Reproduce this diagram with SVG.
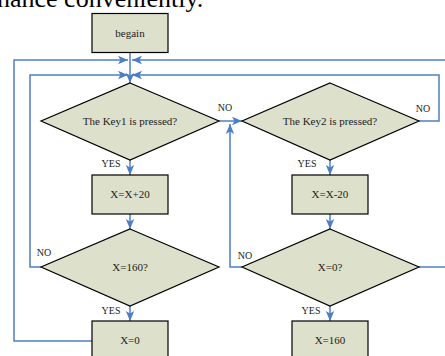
<svg xmlns="http://www.w3.org/2000/svg" width="445" height="356" viewBox="0 0 445 356">
<style>
.box{fill:#dde0ca;stroke:#000;stroke-width:1.2}
.t{font-family:"Liberation Serif","Times New Roman",serif;font-size:11px;fill:#222;text-anchor:middle}
.lbl{font-family:"Liberation Serif","Times New Roman",serif;font-size:10px;fill:#222;text-anchor:middle}
.c{fill:none;stroke:#4f7fc4;stroke-width:1.5}
</style>
<defs>
<marker id="ah" markerUnits="userSpaceOnUse" markerWidth="10" markerHeight="10" viewBox="0 0 10 10" refX="10" refY="5" orient="auto">
<path d="M0,0.8 L10,5 L0,9.2 L2.5,5 Z" fill="#4a7ec8"/>
</marker>
</defs>
<rect width="445" height="356" fill="#fff"/>
<text x="-3" y="7" font-family="Liberation Serif,'Times New Roman',serif" font-size="26" fill="#000">nance conveniently.</text>
<g id="connectors">
<path class="c" d="M130,52 V83" marker-end="url(#ah)"/>
<path class="c" d="M92,341 H14 V60 H128" marker-end="url(#ah)"/>
<path class="c" d="M450,60 H132" marker-end="url(#ah)"/>
<path class="c" d="M41,267 H30 V75 H128" marker-end="url(#ah)"/>
<path class="c" d="M419,121 H439 V75 H132" marker-end="url(#ah)"/>
<path class="c" d="M219,121 H242" marker-end="url(#ah)"/>
<path class="c" d="M242,267 H230 V124" marker-end="url(#ah)"/>
<path class="c" d="M419,267 H450"/>
<path class="c" d="M130,160 V175" marker-end="url(#ah)"/>
<path class="c" d="M330,160 V175" marker-end="url(#ah)"/>
<path class="c" d="M130,214 V229" marker-end="url(#ah)"/>
<path class="c" d="M330,214 V229" marker-end="url(#ah)"/>
<path class="c" d="M130,306 V321" marker-end="url(#ah)"/>
<path class="c" d="M330,306 V321" marker-end="url(#ah)"/>
</g>
<g id="begin"><rect class="box" x="92" y="13.5" width="76" height="39"/><text class="t" x="130" y="36.5">begain</text></g>
<g id="key1"><polygon class="box" points="130,83 219,121 130,160 41,121"/><text class="t" x="130" y="124.5">The Key1 is pressed?</text></g>
<g id="key2"><polygon class="box" points="330,83 419,121 330,160 242,121"/><text class="t" x="330" y="124.5">The Key2 is pressed?</text></g>
<g id="inc"><rect class="box" x="92" y="175" width="76" height="39"/><text class="t" x="130" y="198">X=X+20</text></g>
<g id="dec"><rect class="box" x="292" y="175" width="76" height="39"/><text class="t" x="330" y="198">X=X-20</text></g>
<g id="eq160"><polygon class="box" points="130,229 219,267 130,306 41,267"/><text class="t" x="130" y="270.5">X=160?</text></g>
<g id="eq0"><polygon class="box" points="330,229 419,267 330,306 242,267"/><text class="t" x="330" y="270.5">X=0?</text></g>
<g id="set0"><rect class="box" x="92" y="321" width="76" height="40"/><text class="t" x="130" y="343.5">X=0</text></g>
<g id="set160"><rect class="box" x="292" y="321" width="76" height="40"/><text class="t" x="330" y="343.5">X=160</text></g>
<g id="labels">
<text class="lbl" x="225" y="110.5">NO</text>
<text class="lbl" x="423" y="112">NO</text>
<text class="lbl" x="111" y="166.5">YES</text>
<text class="lbl" x="307" y="166.5">YES</text>
<text class="lbl" x="44" y="255.5">NO</text>
<text class="lbl" x="245" y="259">NO</text>
<text class="lbl" x="111" y="313.5">YES</text>
<text class="lbl" x="311" y="313.5">YES</text>
</g>
</svg>
